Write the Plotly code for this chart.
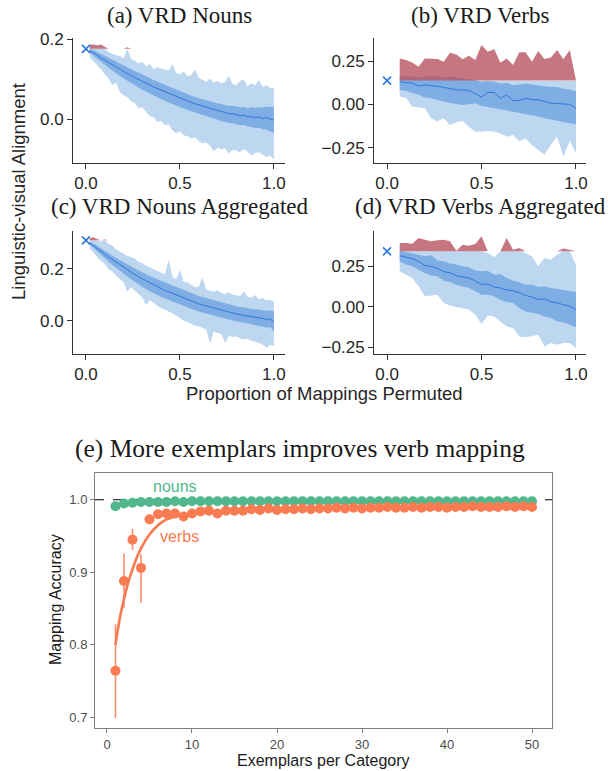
import plotly.graph_objects as go

W, H = 608, 771

# ---------------- data: permutation panels ----------------
nouns_x = [0.02, 0.04, 0.06, 0.08, 0.10, 0.12, 0.14, 0.16, 0.18, 0.20,
           0.22, 0.24, 0.26, 0.28, 0.30, 0.32, 0.34, 0.36, 0.38, 0.40,
           0.42, 0.44, 0.46, 0.48, 0.50, 0.52, 0.54, 0.56, 0.58, 0.60,
           0.62, 0.64, 0.66, 0.68, 0.70, 0.72, 0.74, 0.76, 0.78, 0.80,
           0.82, 0.84, 0.86, 0.88, 0.90, 0.92, 0.94, 0.96, 0.98, 1.00]

a_base = 0.176
a_med = [0.171, 0.166, 0.160, 0.153, 0.148, 0.142, 0.137, 0.131, 0.125, 0.119,
         0.114, 0.109, 0.104, 0.100, 0.095, 0.090, 0.086, 0.081, 0.077, 0.072,
         0.068, 0.064, 0.061, 0.057, 0.052, 0.048, 0.045, 0.042, 0.039, 0.036,
         0.033, 0.031, 0.028, 0.025, 0.022, 0.020, 0.017, 0.014, 0.014, 0.012,
         0.009, 0.010, 0.006, 0.007, 0.004, 0.006, 0.002, 0.004, 0.001, -0.002]
a_q75 = [0.176, 0.173, 0.168, 0.163, 0.159, 0.153, 0.149, 0.144, 0.139, 0.134,
         0.130, 0.125, 0.121, 0.117, 0.112, 0.107, 0.103, 0.098, 0.094, 0.090,
         0.086, 0.082, 0.078, 0.074, 0.069, 0.065, 0.062, 0.059, 0.056, 0.052,
         0.050, 0.048, 0.045, 0.042, 0.040, 0.038, 0.035, 0.033, 0.034, 0.032,
         0.030, 0.031, 0.028, 0.030, 0.028, 0.031, 0.029, 0.032, 0.031, 0.032]
a_q25 = [0.166, 0.158, 0.150, 0.142, 0.136, 0.129, 0.123, 0.116, 0.109, 0.102,
         0.096, 0.090, 0.085, 0.080, 0.074, 0.069, 0.064, 0.059, 0.055, 0.050,
         0.046, 0.042, 0.038, 0.034, 0.030, 0.026, 0.023, 0.020, 0.017, 0.013,
         0.010, 0.008, 0.005, 0.002, -0.001, -0.004, -0.006, -0.009, -0.010, -0.012,
         -0.015, -0.014, -0.018, -0.019, -0.022, -0.021, -0.025, -0.026, -0.030, -0.034]
a_q95 = [0.186, 0.187, 0.185, 0.187, 0.181, 0.168, 0.163, 0.160, 0.158, 0.152,
         0.180, 0.150, 0.146, 0.140, 0.143, 0.132, 0.138, 0.125, 0.130, 0.126,
         0.124, 0.122, 0.138, 0.116, 0.112, 0.120, 0.108, 0.110, 0.125, 0.104,
         0.100, 0.094, 0.102, 0.092, 0.096, 0.090, 0.093, 0.108, 0.088, 0.086,
         0.095, 0.100, 0.082, 0.090, 0.085, 0.098, 0.080, 0.085, 0.078, 0.077]
a_q05 = [0.155, 0.145, 0.135, 0.125, 0.112, 0.102, 0.085, 0.092, 0.068, 0.060,
         0.055, 0.045, 0.040, 0.028, 0.030, 0.018, 0.008, 0.005, -0.006, -0.004,
         -0.015, -0.012, -0.028, -0.035, -0.030, -0.040, -0.042, -0.048, -0.045, -0.055,
         -0.060, -0.058, -0.066, -0.080, -0.070, -0.075, -0.072, -0.085, -0.076, -0.078,
         -0.082, -0.074, -0.080, -0.090, -0.084, -0.082, -0.088, -0.094, -0.090, -0.100]

c_base = 0.310
c_med = [0.300, 0.290, 0.278, 0.268, 0.257, 0.246, 0.236, 0.226, 0.216, 0.206,
         0.197, 0.188, 0.179, 0.170, 0.162, 0.154, 0.147, 0.139, 0.132, 0.125,
         0.118, 0.112, 0.106, 0.100, 0.093, 0.087, 0.082, 0.077, 0.072, 0.066,
         0.062, 0.058, 0.052, 0.049, 0.045, 0.040, 0.037, 0.033, 0.030, 0.027,
         0.024, 0.022, 0.018, 0.016, 0.015, 0.012, 0.010, 0.006, 0.008, -0.004]
c_q75 = [0.305, 0.298, 0.289, 0.280, 0.270, 0.259, 0.251, 0.242, 0.234, 0.225,
         0.218, 0.210, 0.202, 0.194, 0.187, 0.180, 0.173, 0.166, 0.160, 0.154,
         0.147, 0.141, 0.136, 0.130, 0.123, 0.117, 0.112, 0.107, 0.102, 0.096,
         0.092, 0.088, 0.082, 0.079, 0.075, 0.070, 0.067, 0.063, 0.060, 0.057,
         0.054, 0.053, 0.049, 0.047, 0.046, 0.044, 0.042, 0.039, 0.040, 0.037]
c_q25 = [0.294, 0.280, 0.266, 0.253, 0.241, 0.228, 0.216, 0.204, 0.193, 0.182,
         0.171, 0.160, 0.150, 0.140, 0.131, 0.122, 0.114, 0.106, 0.099, 0.092,
         0.086, 0.080, 0.074, 0.069, 0.062, 0.056, 0.051, 0.046, 0.041, 0.036,
         0.032, 0.028, 0.023, 0.020, 0.016, 0.012, 0.009, 0.005, 0.002, -0.001,
         -0.004, -0.006, -0.010, -0.012, -0.014, -0.018, -0.020, -0.025, -0.024, -0.040]
c_q95 = [0.318, 0.322, 0.314, 0.305, 0.313, 0.296, 0.290, 0.276, 0.268, 0.258,
         0.250, 0.246, 0.240, 0.228, 0.222, 0.212, 0.206, 0.200, 0.192, 0.186,
         0.180, 0.236, 0.170, 0.160, 0.196, 0.150, 0.148, 0.138, 0.130, 0.132,
         0.168, 0.120, 0.115, 0.112, 0.118, 0.108, 0.104, 0.110, 0.102, 0.098,
         0.096, 0.114, 0.092, 0.090, 0.100, 0.084, 0.088, 0.080, 0.082, 0.076]
c_q05 = [0.280, 0.262, 0.245, 0.232, 0.220, 0.200, 0.190, 0.176, 0.160, 0.150,
         0.112, 0.130, 0.116, 0.104, 0.090, 0.060, 0.080, 0.070, 0.058, 0.050,
         0.042, 0.036, 0.030, 0.020, 0.010, 0.002, -0.004, -0.010, -0.018, -0.020,
         -0.028, -0.034, -0.086, -0.040, -0.046, -0.050, -0.085, -0.058, -0.062, -0.060,
         -0.066, -0.070, -0.068, -0.076, -0.080, -0.084, -0.090, -0.104, -0.092, -0.097]

verbs_x = [0.067, 0.100, 0.133, 0.167, 0.200, 0.233, 0.267, 0.300, 0.333, 0.367,
           0.400, 0.433, 0.467, 0.500, 0.533, 0.567, 0.600, 0.633, 0.667, 0.700,
           0.733, 0.767, 0.800, 0.833, 0.867, 0.900, 0.933, 0.967, 1.000]

b_base = 0.137
b_med = [0.131, 0.125, 0.124, 0.106, 0.112, 0.110, 0.104, 0.098, 0.090, 0.084,
         0.083, 0.080, 0.062, 0.042, 0.069, 0.068, 0.035, 0.054, 0.021, 0.022,
         0.035, 0.027, 0.026, 0.015, 0.006, 0.004, 0.002, 0.000, -0.023]
b_q75 = [0.160, 0.165, 0.160, 0.155, 0.160, 0.165, 0.160, 0.155, 0.160, 0.155,
         0.150, 0.145, 0.140, 0.130, 0.135, 0.130, 0.120, 0.125, 0.110, 0.115,
         0.120, 0.115, 0.110, 0.105, 0.100, 0.100, 0.090, 0.085, 0.075]
b_q25 = [0.083, 0.078, 0.065, 0.055, 0.040, 0.035, 0.025, 0.015, 0.008, 0.002,
         -0.004, 0.000, 0.006, -0.010, -0.015, -0.020, -0.028, -0.035, -0.042, -0.048,
         -0.055, -0.062, -0.070, -0.080, -0.088, -0.095, -0.104, -0.110, -0.115]
b_q95 = [0.265, 0.256, 0.242, 0.217, 0.265, 0.265, 0.262, 0.246, 0.298, 0.288,
         0.260, 0.280, 0.256, 0.342, 0.304, 0.319, 0.240, 0.265, 0.227, 0.300,
         0.300, 0.246, 0.308, 0.262, 0.270, 0.313, 0.260, 0.313, 0.135]
b_q05 = [0.044, 0.038, -0.013, -0.017, -0.023, -0.080, -0.100, -0.080, -0.119, -0.104,
         -0.096, -0.129, -0.158, -0.158, -0.154, -0.158, -0.169, -0.187, -0.177, -0.215,
         -0.196, -0.235, -0.263, -0.292, -0.235, -0.187, -0.302, -0.210, -0.283]

d_base = 0.343
d_med = [0.316, 0.306, 0.298, 0.281, 0.256, 0.250, 0.238, 0.217, 0.210, 0.192,
         0.184, 0.178, 0.159, 0.138, 0.140, 0.122, 0.116, 0.103, 0.099, 0.087,
         0.070, 0.060, 0.045, 0.048, 0.031, 0.024, 0.012, 0.004, -0.019]
d_q75 = [0.347, 0.340, 0.333, 0.322, 0.312, 0.318, 0.287, 0.281, 0.267, 0.261,
         0.250, 0.244, 0.225, 0.219, 0.223, 0.198, 0.202, 0.178, 0.161, 0.151,
         0.136, 0.136, 0.122, 0.126, 0.116, 0.110, 0.105, 0.099, 0.091]
d_q25 = [0.281, 0.262, 0.250, 0.229, 0.209, 0.194, 0.188, 0.161, 0.153, 0.136,
         0.126, 0.116, 0.095, 0.074, 0.074, 0.064, 0.043, 0.029, 0.023, -0.008,
         -0.029, -0.039, -0.045, -0.060, -0.070, -0.091, -0.097, -0.112, -0.128]
d_q95 = [0.395, 0.395, 0.390, 0.426, 0.415, 0.405, 0.411, 0.415, 0.405, 0.347,
         0.384, 0.378, 0.388, 0.436, 0.333, 0.306, 0.343, 0.426, 0.353, 0.364,
         0.333, 0.312, 0.250, 0.302, 0.291, 0.322, 0.360, 0.353, 0.260]
d_q05 = [0.219, 0.198, 0.178, 0.126, 0.064, 0.070, 0.074, 0.023, 0.008, -0.002,
         -0.008, -0.018, -0.050, -0.107, -0.054, -0.060, -0.091, -0.122, -0.132, -0.184,
         -0.190, -0.184, -0.174, -0.246, -0.225, -0.236, -0.225, -0.225, -0.256]

perm_xticks = [0.0, 0.5, 1.0]
perm_xticklabels = ["0.0", "0.5", "1.0"]
nouns_yticks = [0.0, 0.2]
nouns_yticklabels = ["0.0", "0.2"]
verbs_yticks = [-0.25, 0.0, 0.25]
verbs_yticklabels = ["\u22120.25", "0.00", "0.25"]

# ---------------- data: exemplar panel ----------------
exemplars = list(range(1, 51))
nouns_acc = [0.991, 0.995, 0.996, 0.997, 0.997, 0.997, 0.997, 0.998, 0.997, 0.998,
             0.998, 0.998, 0.998, 0.998, 0.998, 0.998, 0.998, 0.998, 0.998, 0.998,
             0.998, 0.998, 0.998, 0.998, 0.998, 0.998, 0.998, 0.998, 0.998, 0.998,
             0.998, 0.998, 0.998, 0.998, 0.998, 0.998, 0.998, 0.998, 0.998, 0.998,
             0.998, 0.998, 0.998, 0.998, 0.998, 0.998, 0.998, 0.998, 0.998, 0.998]
verbs_acc = [0.764, 0.888, 0.945, 0.906, 0.973, 0.980, 0.981, 0.981, 0.977, 0.981,
             0.984, 0.985, 0.981, 0.985, 0.985, 0.985, 0.987, 0.986, 0.988, 0.986,
             0.987, 0.987, 0.988, 0.987, 0.988, 0.988, 0.989, 0.988, 0.989, 0.988,
             0.989, 0.989, 0.990, 0.989, 0.989, 0.990, 0.989, 0.990, 0.990, 0.989,
             0.990, 0.990, 0.991, 0.990, 0.990, 0.990, 0.991, 0.990, 0.991, 0.990]
verbs_err_up = [0.064, 0.038, 0.015, 0.019, 0.006, 0.003, 0.003, 0.003, 0.003, 0.002,
                0.002, 0.002, 0.002, 0.002, 0.002, 0.002, 0.002, 0.002, 0.002, 0.002,
                0.002, 0.002, 0.002, 0.002, 0.002, 0.002, 0.002, 0.002, 0.002, 0.002,
                0.002, 0.002, 0.002, 0.002, 0.002, 0.002, 0.002, 0.002, 0.002, 0.002,
                0.002, 0.002, 0.002, 0.002, 0.002, 0.002, 0.002, 0.002, 0.002, 0.002]
verbs_err_down = [0.065, 0.037, 0.014, 0.048, 0.006, 0.003, 0.003, 0.003, 0.003, 0.002,
                  0.002, 0.002, 0.002, 0.002, 0.002, 0.002, 0.002, 0.002, 0.002, 0.002,
                  0.002, 0.002, 0.002, 0.002, 0.002, 0.002, 0.002, 0.002, 0.002, 0.002,
                  0.002, 0.002, 0.002, 0.002, 0.002, 0.002, 0.002, 0.002, 0.002, 0.002,
                  0.002, 0.002, 0.002, 0.002, 0.002, 0.002, 0.002, 0.002, 0.002, 0.002]
fit_x = [1, 1.5, 2, 2.5, 3, 3.5, 4, 5, 6, 7, 8, 10, 12, 15, 20, 25, 30, 40, 50]
fit_y = [0.800, 0.836, 0.863, 0.886, 0.904, 0.920, 0.933, 0.952, 0.965, 0.973,
         0.977, 0.981, 0.983, 0.985, 0.987, 0.988, 0.988, 0.989, 0.989]
fit_se = [0.012, 0.009, 0.007, 0.006, 0.005, 0.004, 0.004, 0.003, 0.003, 0.003,
          0.003, 0.003, 0.003, 0.003, 0.003, 0.003, 0.003, 0.003, 0.004]
exemplar_xticks = [0, 10, 20, 30, 40, 50]
acc_yticks = [0.7, 0.8, 0.9, 1.0]
acc_yticklabels = ["0.7", "0.8", "0.9", "1.0"]

# ---------------- styling ----------------
LIGHT = "#bdd7f1"
DARK = "#7eaee4"
LINE = "#2f78da"
RED = "rgba(184,88,100,0.82)"
GREEN = "#52b78c"
ORANGE = "#f87b52"
SANS = "Liberation Sans, Arial, sans-serif"
SERIF = "Liberation Serif, Times New Roman, serif"


def px_x(p):
    return p / W


def px_y(p):
    return 1 - p / H


fig = go.Figure()


def add_perm_panel(n, x, med, q25, q75, q05, q95, base):
    xa, ya = f"x{n}", f"y{n}"
    light_top = [min(v, base) for v in q95]
    red_top = [max(v, base) for v in q95]
    common = dict(xaxis=xa, yaxis=ya, showlegend=False, hoverinfo="skip", mode="lines")
    fig.add_trace(go.Scatter(x=x, y=q05, line=dict(width=0, color=LIGHT), **common))
    fig.add_trace(go.Scatter(x=x, y=light_top, fill="tonexty", fillcolor=LIGHT,
                             line=dict(width=0, color=LIGHT), **common))
    fig.add_trace(go.Scatter(x=x, y=q25, line=dict(width=0, color=DARK), **common))
    fig.add_trace(go.Scatter(x=x, y=q75, fill="tonexty", fillcolor=DARK,
                             line=dict(width=0, color=DARK), **common))
    fig.add_trace(go.Scatter(x=x, y=[base] * len(x), line=dict(width=0, color=RED), **common))
    fig.add_trace(go.Scatter(x=x, y=red_top, fill="tonexty", fillcolor=RED,
                             line=dict(width=0, color=RED), **common))
    fig.add_trace(go.Scatter(x=x, y=med, line=dict(width=1.0, color=LINE), **common))
    fig.add_trace(go.Scatter(x=[0.0], y=[base], mode="markers", xaxis=xa, yaxis=ya,
                             showlegend=False, hoverinfo="skip",
                             marker=dict(symbol="x-thin", size=8, line=dict(width=1.6, color=LINE))))


add_perm_panel(1, nouns_x, a_med, a_q25, a_q75, a_q05, a_q95, a_base)
add_perm_panel(2, verbs_x, b_med, b_q25, b_q75, b_q05, b_q95, b_base)
add_perm_panel(3, nouns_x, c_med, c_q25, c_q75, c_q05, c_q95, c_base)
add_perm_panel(4, verbs_x, d_med, d_q25, d_q75, d_q05, d_q95, d_base)

# ---------------- exemplar panel ----------------
fit_lo = [y - s for y, s in zip(fit_y, fit_se)]
fit_hi = [y + s for y, s in zip(fit_y, fit_se)]
fig.add_trace(go.Scatter(x=fit_x, y=fit_lo, mode="lines", line=dict(width=0, shape="spline"),
                         xaxis="x5", yaxis="y5", showlegend=False, hoverinfo="skip"))
fig.add_trace(go.Scatter(x=fit_x, y=fit_hi, mode="lines", line=dict(width=0, shape="spline"),
                         fill="tonexty", fillcolor="rgba(248,123,82,0.22)",
                         xaxis="x5", yaxis="y5", showlegend=False, hoverinfo="skip"))
fig.add_trace(go.Scatter(x=fit_x, y=fit_y, mode="lines",
                         line=dict(width=2.6, color=ORANGE, shape="spline"),
                         xaxis="x5", yaxis="y5", showlegend=False, hoverinfo="skip"))
fig.add_trace(go.Scatter(x=exemplars, y=nouns_acc, mode="markers",
                         marker=dict(size=10, color=GREEN),
                         xaxis="x5", yaxis="y5", showlegend=False, hoverinfo="skip"))
fig.add_trace(go.Scatter(x=exemplars, y=verbs_acc, mode="markers",
                         marker=dict(size=10, color=ORANGE),
                         error_y=dict(type="data", array=verbs_err_up, arrayminus=verbs_err_down,
                                      color="rgba(248,123,82,0.85)", thickness=1.6, width=0),
                         xaxis="x5", yaxis="y5", showlegend=False, hoverinfo="skip"))

# ---------------- axes ----------------
perm_axis = dict(showgrid=False, zeroline=False, showline=True, linecolor="#333333", linewidth=1,
                 ticks="outside", ticklen=5, tickcolor="#333333", tickwidth=1,
                 tickfont=dict(family=SANS, size=17, color="#262626"), automargin=False,
                 fixedrange=True)

layout = dict(
    width=W, height=H, margin=dict(l=0, r=0, t=0, b=0),
    paper_bgcolor="white", plot_bgcolor="white", showlegend=False, hovermode=False,
)

left_dom = [px_x(73), px_x(285)]
right_dom = [px_x(374), px_x(586)]
top_dom = [px_y(163), px_y(38)]
bot_dom = [px_y(354), px_y(231)]

layout["xaxis"] = dict(perm_axis, domain=left_dom, anchor="y", range=[-0.069, 1.059],
                       tickvals=perm_xticks, ticktext=perm_xticklabels)
layout["yaxis"] = dict(perm_axis, domain=top_dom, anchor="x", range=[-0.109, 0.203],
                       tickvals=nouns_yticks, ticktext=nouns_yticklabels)
layout["xaxis2"] = dict(perm_axis, domain=right_dom, anchor="y2", range=[-0.069, 1.053],
                        tickvals=perm_xticks, ticktext=perm_xticklabels)
layout["yaxis2"] = dict(perm_axis, domain=top_dom, anchor="x2", range=[-0.339, 0.383],
                        tickvals=verbs_yticks, ticktext=verbs_yticklabels)
layout["xaxis3"] = dict(perm_axis, domain=left_dom, anchor="y3", range=[-0.069, 1.059],
                        tickvals=perm_xticks, ticktext=perm_xticklabels)
layout["yaxis3"] = dict(perm_axis, domain=bot_dom, anchor="x3", range=[-0.127, 0.346],
                        tickvals=nouns_yticks, ticktext=nouns_yticklabels)
layout["xaxis4"] = dict(perm_axis, domain=right_dom, anchor="y4", range=[-0.069, 1.053],
                        tickvals=perm_xticks, ticktext=perm_xticklabels)
layout["yaxis4"] = dict(perm_axis, domain=bot_dom, anchor="x4", range=[-0.293, 0.469],
                        tickvals=verbs_yticks, ticktext=verbs_yticklabels)

ex_axis = dict(showgrid=False, zeroline=False, showline=True, mirror=True, linecolor="#808080",
               linewidth=1, ticks="outside", ticklen=4, tickcolor="#808080", tickwidth=1,
               tickfont=dict(family=SANS, size=13, color="#4d4d4d"), automargin=False,
               fixedrange=True)
layout["xaxis5"] = dict(ex_axis, domain=[px_x(95), px_x(552)], anchor="y5", range=[-1.41, 52.35],
                        tickvals=exemplar_xticks)
layout["yaxis5"] = dict(ex_axis, domain=[px_y(728), px_y(473)], anchor="x5", range=[0.685, 1.037],
                        tickvals=acc_yticks, ticktext=acc_yticklabels)

fig.update_layout(**layout)

fig.add_shape(type="line", xref="x5 domain", yref="y5", x0=0, x1=1, y0=1.0, y1=1.0,
              line=dict(color="black", width=1.1, dash="dash"), layer="below")


def ann(text, x, y, size, family, color="#1a1a1a", angle=0):
    fig.add_annotation(text=text, x=px_x(x), y=px_y(y), xref="paper", yref="paper",
                       showarrow=False, xanchor="center", yanchor="middle", textangle=angle,
                       font=dict(family=family, size=size, color=color))


ann("(a) VRD Nouns", 179, 15, 23, SERIF)
ann("(b) VRD Verbs", 480, 15, 23, SERIF)
ann("(c) VRD Nouns Aggregated", 179, 207, 23, SERIF)
ann("(d) VRD Verbs Aggregated", 480, 207, 23, SERIF)
ann("Proportion of Mappings Permuted", 324, 393, 18.5, SANS, "#262626")
ann("Linguistic-visual Alignment", 18, 192, 18.5, SANS, "#262626", -90)
ann("(e) More exemplars improves verb mapping", 300, 448, 25.5, SERIF)
ann("Exemplars per Category", 323, 760, 16, SANS, "#1a1a1a")
ann("Mapping Accuracy", 55, 600, 16, SANS, "#1a1a1a", -90)

fig.add_annotation(text="nouns", x=8.0, y=1.018, xref="x5", yref="y5", showarrow=False,
                   font=dict(family=SANS, size=16, color=GREEN))
fig.add_annotation(text="verbs", x=8.5, y=0.950, xref="x5", yref="y5", showarrow=False,
                   font=dict(family=SANS, size=16, color=ORANGE))

fig.write_html("out.html", config={"displayModeBar": False},
               post_script="document.body.style.margin='0';document.body.style.overflow='hidden';")
